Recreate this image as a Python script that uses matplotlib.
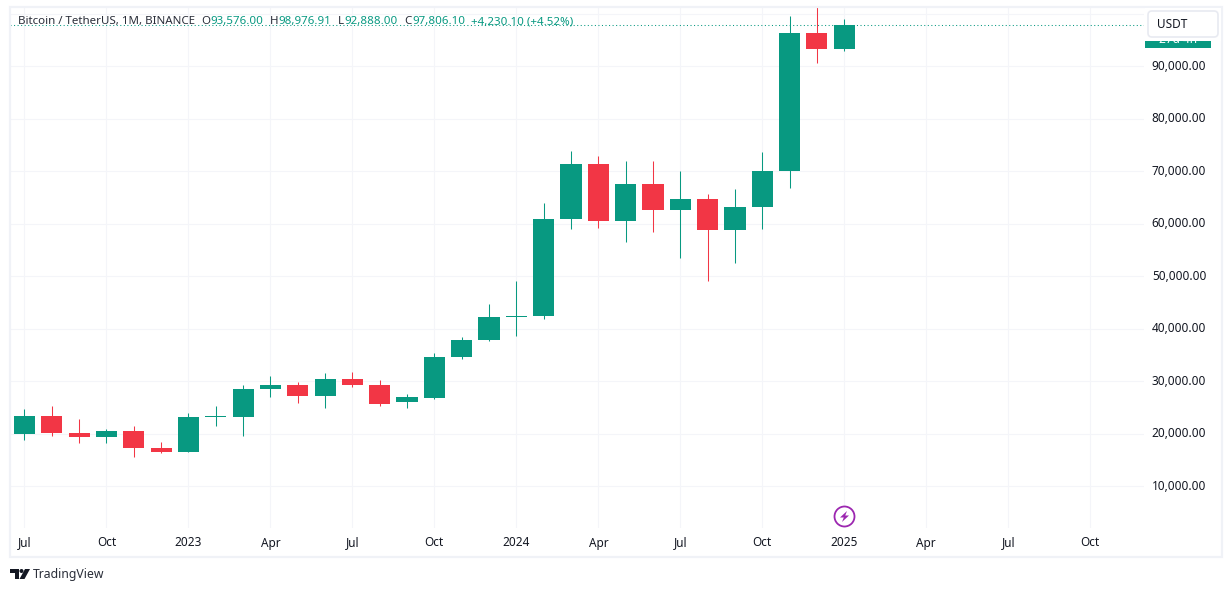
import matplotlib
matplotlib.use("Agg")
import matplotlib.pyplot as plt
from matplotlib.patches import Rectangle, FancyBboxPatch, Polygon, Circle

plt.rcParams['font.family'] = ['Noto Sans', 'DejaVu Sans']

W, H = 1232, 592
UP, DOWN = '#089981', '#f23645'
GRID = '#f4f5f9'
FRAME = '#f0f2f7'
TXT = '#131722'

months = list(range(31))
opens = [19900, 23296, 20050, 19422, 20490, 17165, 16541, 23125, 23141, 28465, 29233, 27210, 30472, 29232, 25940, 26800,
         34639, 37723, 42283, 42400, 60900, 71280, 60500, 67540, 62600, 64628, 58800, 63150, 70050, 96290, 93300]
highs = [24668, 25214, 22799, 20800, 21480, 18387, 23960, 25250, 29184, 31000, 29820, 31431, 31804, 30244, 27483, 35280,
         38450, 44700, 48969, 64000, 73777, 72797, 71979, 71980, 70079, 65660, 66498, 73620, 99588, 108353, 98976.91]
lows = [18776, 19520, 18125, 18190, 15476, 16256, 16499, 21351, 19549, 26942, 25811, 24800, 28861, 25166, 24901, 26538,
        34097, 37615, 38555, 41884, 59005, 59191, 56552, 58402, 53485, 49000, 52550, 58946, 66835, 90500, 92950]
closes = [23296, 20050, 19422, 20490, 17165, 16542, 23125, 23141, 28465, 29233, 27210, 30472, 29232, 25700, 26962, 34639,
          37723, 42283, 42400, 60900, 71280, 60500, 67540, 62600, 64628, 58800, 63150, 70050, 96290, 93300, 97806.1]

x_ticks = [0, 3, 6, 9, 12, 15, 18, 21, 24, 27, 30, 33, 36, 39]
x_labels = ['Jul', 'Oct', '2023', 'Apr', 'Jul', 'Oct', '2024', 'Apr', 'Jul', 'Oct', '2025', 'Apr', 'Jul', 'Oct']
y_ticks = [10000, 20000, 30000, 40000, 50000, 60000, 70000, 80000, 90000, 100000]
y_labels = ['10,000.00', '20,000.00', '30,000.00', '40,000.00', '50,000.00', '60,000.00', '70,000.00', '80,000.00', '90,000.00', '']
last_price = 97806.1

fig = plt.figure(figsize=(W / 100, H / 100), dpi=100, facecolor='white')

L, R, T, B = 10, 1144, 7, 528
ax = fig.add_axes([L / W, 1 - B / H, (R - L) / W, (B - T) / H])
px_per_month = 27.33
x0 = 24.4
ax.set_xlim((L - x0) / px_per_month, (R - x0) / px_per_month)
px_per_unit = 0.00525
ax.set_ylim(10000 + (486 - B) / px_per_unit, 10000 + (486 - T) / px_per_unit)
for s in ax.spines.values():
    s.set_visible(False)
ax.tick_params(length=0, labelbottom=False, labelleft=False)
ax.set_xticks(x_ticks)
ax.set_yticks(y_ticks)
ax.grid(True, color=GRID, lw=0.75)
ax.set_axisbelow(True)

body = 0.77
for m, o, h, l, c in zip(months, opens, highs, lows, closes):
    col = UP if c >= o else DOWN
    ax.plot([m, m], [l, h], color=col, lw=0.75, solid_capstyle='butt', zorder=2, snap=True)
    ax.add_patch(Rectangle((m - body / 2, min(o, c)), body, max(abs(c - o), 190), facecolor=col, edgecolor='none', zorder=3))

ax.axhline(last_price, color=UP, lw=0.75, ls=(0, (1, 2.4)), zorder=4, snap=True)

for t, lab in zip(x_ticks, x_labels):
    bold = lab.isdigit()
    xp = x0 + t * px_per_month
    fig.text(xp / W, 1 - 543 / H, lab, ha='center', va='center', fontsize=8.5, color=TXT,
             fontweight='semibold' if bold else 'normal')

for t, lab in zip(y_ticks, y_labels):
    yp = 486 - (t - 10000) * px_per_unit + 0.3
    fig.text(1179 / W, 1 - yp / H, lab, ha='center', va='center', fontsize=8.5, color=TXT)

ov = fig.add_axes([0, 0, 1, 1], facecolor='none')
ov.set_xlim(0, W)
ov.set_ylim(H, 0)
ov.axis('off')
ov.add_patch(Rectangle((9.5, 6.5), 1212, 550, facecolor='none', edgecolor=FRAME, lw=1.6))

hy = 21.5
ov.text(18, hy, 'Bitcoin / TetherUS, 1M, BINANCE', fontsize=8.3, color='#2a2e39', va='center')
for xp, lab, val in [(201.5, 'O', '93,576.00'), (269.5, 'H', '98,976.91'), (338, 'L', '92,888.00'), (404, 'C', '97,806.10')]:
    ov.text(xp, hy, lab, fontsize=8.3, color='#2a2e39', va='center')
    ov.text(xp + 8.5 if lab != 'L' else xp + 6.5, hy, val, fontsize=8.3, color=UP, va='center')
ov.text(471, hy, '+4,230.10 (+4.52%)', fontsize=8.3, color=UP, va='center')

ov.add_patch(Rectangle((1145, 17), 66, 30.5, facecolor=UP, edgecolor='none', zorder=2))
ov.text(1178, 39.5, '27d 4h', fontsize=8.5, color='white', ha='center', va='center', zorder=3)
ov.add_patch(Rectangle((1145, 8), 76, 33, facecolor='white', edgecolor='none', zorder=4))
ov.add_patch(FancyBboxPatch((1148, 11), 70, 26, boxstyle='round,pad=0,rounding_size=4', facecolor='white', edgecolor='#e8eaf1', lw=1.2, zorder=5))
ov.text(1157, 24.5, 'USDT', fontsize=8.5, color=TXT, va='center', zorder=6)

ov.add_patch(Circle((844.5, 516.5), 10, facecolor='white', edgecolor='#9c27b0', lw=1.3))
ov.add_patch(Polygon([(847, 511), (840, 517.5), (843.8, 517.5), (842, 522), (849, 515.5), (845.2, 515.5)], closed=True, facecolor='#9c27b0', edgecolor='none'))

ov.add_patch(Polygon([(10, 569), (19, 569), (19, 579), (14.5, 579), (14.5, 573), (10, 573)], closed=True, facecolor=TXT, edgecolor='none'))
ov.add_patch(Circle((21.5, 571), 2, facecolor=TXT, edgecolor='none'))
ov.add_patch(Polygon([(25, 569), (30, 569), (24.5, 579), (19.5, 579)], closed=True, facecolor=TXT, edgecolor='none'))
ov.text(33, 574.5, 'TradingView', fontsize=8.8, color='#2a2e39', va='center')

fig.savefig('out.png', dpi=100, facecolor='white')
